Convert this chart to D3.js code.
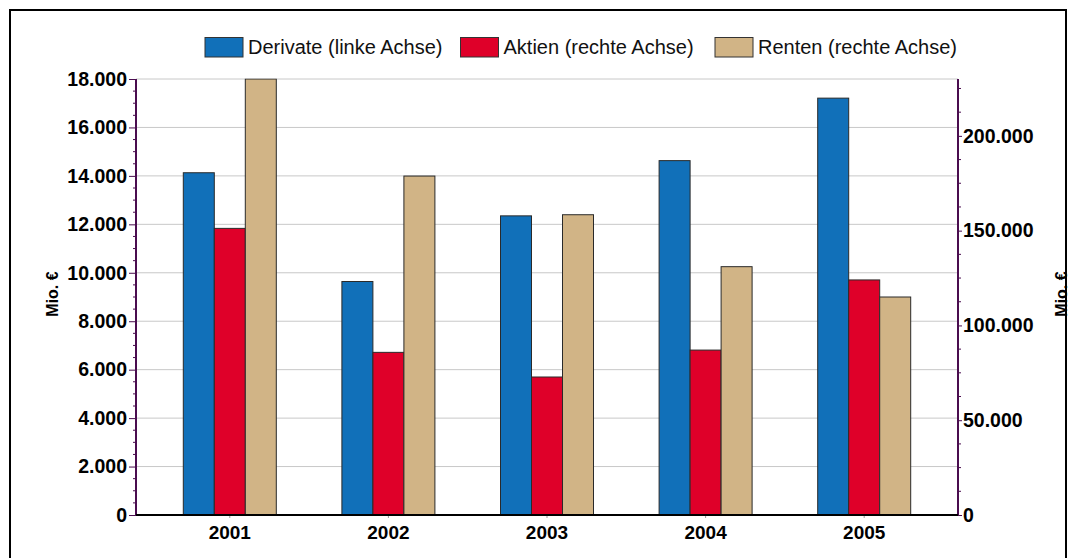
<!DOCTYPE html>
<html>
<head>
<meta charset="utf-8">
<script src="https://cdn.jsdelivr.net/npm/d3@7"></script>
<style>
  body { margin: 0; background: #fff; }
  svg { display: block; font-family: "Liberation Sans", Arial, sans-serif; }
</style>
</head>
<body>
<svg id="chart" width="1077" height="558"></svg>
<script>
// data
const years = ["2001", "2002", "2003", "2004", "2005"];
const derivate = [14130, 9640, 12350, 14630, 17210];   // linke Achse
const aktien = [151200, 85800, 72800, 87000, 124000];  // rechte Achse
const renten = [230000, 178800, 158400, 131000, 115000]; // rechte Achse
const seriesNames = ["Derivate (linke Achse)", "Aktien (rechte Achse)", "Renten (rechte Achse)"];
const leftTicks = [0, 2000, 4000, 6000, 8000, 10000, 12000, 14000, 16000, 18000];
const rightTicks = [0, 50000, 100000, 150000, 200000];

const colors = ["#1170b9", "#df0029", "#d1b486"];
const de = d3.formatLocale({decimal: ",", thousands: ".", grouping: [3], currency: ["", " €"]});
const fmt = de.format(",d");

const svg = d3.select("#chart");
const m = {left: 136, right: 958, top: 79, bottom: 515};

// outer frame
svg.append("rect")
    .attr("x", 10).attr("y", 10)
    .attr("width", 1056).attr("height", 570)
    .attr("fill", "none").attr("stroke", "#000").attr("stroke-width", 2);

const yL = d3.scaleLinear().domain([0, 18000]).range([m.bottom, m.top]);
const yR = d3.scaleLinear().domain([0, 230000]).range([m.bottom, m.top]);
const x = d3.scaleBand().domain(years).range([m.left + 14.5, m.right - 14.5]);
const xs = d3.scaleBand().domain([0, 1, 2]).range([-46.5, 46.5]);

// gridlines
svg.append("g").selectAll("line").data(leftTicks.slice(1)).join("line")
    .attr("x1", m.left).attr("x2", m.right)
    .attr("y1", d => yL(d)).attr("y2", d => yL(d))
    .attr("stroke", "#c8c8c8").attr("stroke-width", 1);

// bars
const series = [
  {vals: derivate, y: yL},
  {vals: aktien, y: yR},
  {vals: renten, y: yR}
];
svg.append("clipPath").attr("id", "plotclip")
  .append("rect").attr("x", m.left).attr("y", m.top - 0.5)
  .attr("width", m.right - m.left).attr("height", m.bottom - m.top + 0.5);

const bars = svg.append("g").attr("clip-path", "url(#plotclip)");
series.forEach((s, i) => {
  bars.append("g").selectAll("rect").data(s.vals).join("rect")
      .attr("x", (d, j) => x(years[j]) + x.bandwidth() / 2 + xs(i))
      .attr("y", d => s.y(d))
      .attr("width", xs.bandwidth())
      .attr("height", d => m.bottom - s.y(d))
      .attr("fill", colors[i])
      .attr("stroke", "#2a2a2a").attr("stroke-width", 1);
});

// left axis
const axL = svg.append("g").attr("transform", `translate(${m.left},0)`)
    .call(d3.axisLeft(yL).tickValues(leftTicks).tickFormat(fmt).tickSize(7).tickPadding(2));
axL.append("g").selectAll("line").data(d3.range(500, 18000, 500).filter(d => d % 2000))
    .join("line").attr("x1", -3).attr("x2", 0)
    .attr("y1", d => yL(d)).attr("y2", d => yL(d));

// right axis
const axR = svg.append("g").attr("transform", `translate(${m.right},0)`)
    .call(d3.axisRight(yR).tickValues(rightTicks).tickFormat(fmt).tickSize(4).tickPadding(1));
axR.append("g").selectAll("line").data(d3.range(12500, 230000, 12500).filter(d => d % 50000))
    .join("line").attr("x1", 0).attr("x2", 3)
    .attr("y1", d => yR(d)).attr("y2", d => yR(d));

[axL, axR].forEach(a => {
  a.select(".domain").remove();
  a.selectAll("line").attr("stroke", "#4a0d4f").attr("stroke-width", 1);
  a.selectAll("text").attr("font-size", 19.5).attr("font-weight", "bold").attr("fill", "#000")
      .attr("font-family", "Liberation Sans, Arial, sans-serif");
  a.append("line").attr("y1", m.top).attr("y2", m.bottom + 1)
      .attr("stroke", "#4a0d4f").attr("stroke-width", 2);
});

// bottom axis
const axB = svg.append("g").attr("transform", `translate(0,${m.bottom})`)
    .call(d3.axisBottom(x).tickSize(3).tickPadding(8));
axB.select(".domain").remove();
axB.selectAll("line").attr("stroke", "#999");
axB.selectAll("text").attr("font-size", 19).attr("font-weight", "bold").attr("fill", "#000")
    .attr("font-family", "Liberation Sans, Arial, sans-serif");
axB.append("line").attr("x1", m.left).attr("x2", m.right)
    .attr("stroke", "#000").attr("stroke-width", 2);

// axis titles
svg.append("text").attr("transform", "translate(58,294) rotate(-90)")
    .attr("text-anchor", "middle").attr("font-size", 16).attr("font-weight", "bold")
    .text("Mio. €");
svg.append("text").attr("transform", "translate(1067,294) rotate(-90)")
    .attr("text-anchor", "middle").attr("font-size", 16).attr("font-weight", "bold")
    .text("Mio. €");

// legend
const legX = [205, 460.5, 715];
const leg = svg.append("g");
seriesNames.forEach((name, i) => {
  leg.append("rect").attr("x", legX[i]).attr("y", 37.5).attr("width", 38).attr("height", 19.5)
      .attr("fill", colors[i]).attr("stroke", "#333").attr("stroke-width", 1);
  leg.append("text").attr("x", legX[i] + 43).attr("y", 54)
      .attr("font-size", 20).attr("fill", "#111")
      .text(name);
});
</script>
</body>
</html>
